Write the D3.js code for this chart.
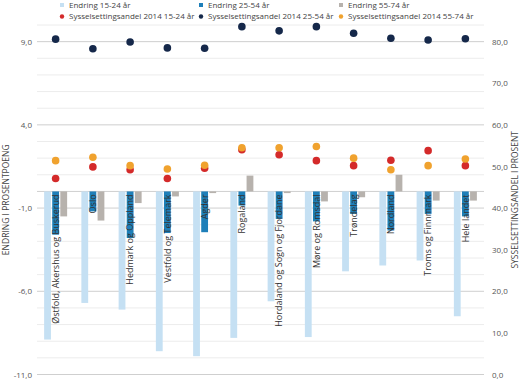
<!DOCTYPE html>
<html><head><meta charset="utf-8">
<script src="https://cdn.jsdelivr.net/npm/d3@7/dist/d3.min.js"></script>
<style>
body{margin:0;background:#fff;}
text{font-family:"Open Sans",sans-serif;}
</style></head>
<body><svg id="c" width="525" height="380"></svg>
<script>
const categories = ["Østfold, Akershus og Buskerud","Oslo","Hedmark og Oppland","Vestfold og Telemark","Agder","Rogaland","Hordaland og Sogn og Fjordane","Møre og Romsdal","Trøndelag","Nordland","Troms og Finnmark","Hele landet"];
const endring1524 = [-8.9,-6.7,-7.1,-9.6,-9.9,-8.8,-6.6,-8.75,-4.8,-4.45,-4.15,-7.5];
const endring2554 = [-2.6,-1.2,-2.8,-2.5,-2.45,-0.85,-1.65,-1.8,-1.35,-2.35,-1.35,-1.5];
const endring5574 = [-1.5,-1.75,-0.7,-0.3,-0.1,0.95,-0.1,-0.6,-0.35,1.0,-0.55,-0.55];
const andel1524 = [47.1,49.9,49.2,47.1,49.6,54.0,52.8,51.4,50.2,51.5,53.8,50.2];
const andel2554 = [80.6,78.3,79.9,78.5,78.4,83.6,82.6,83.6,82.0,80.8,80.4,80.7];
const andel5574 = [51.4,52.2,50.2,49.4,50.3,54.5,54.5,54.8,52.0,49.2,50.2,51.8];
const leftTicks = [9,4,-1,-6,-11];
const rightTicks = [80,70,60,50,40,30,20,10,0];
const barKeys = ["Endring 15-24 år","Endring 25-54 år","Endring 55-74 år"];
const dotKeys = ["Sysselsettingsandel 2014 15-24 år","Sysselsettingsandel 2014 25-54 år","Sysselsettingsandel 2014 55-74 år"];

const barColors = ["#c5e0f3","#1e7fb9","#b7b2ad"];
const dotColors = ["#d42a2a","#15284a","#f0a22e"];

const svg = d3.select("#c");
const x0 = 37, x1r = 484, yTop = 25, yBot = 374.5;
const y = d3.scaleLinear().domain([-11,10]).range([yBot,yTop]);
const yR = d3.scaleLinear().domain([0,84]).range([yBot,yTop]);
const x = d3.scaleBand().domain(categories).range([x0,x1r]);
const xs = d3.scaleBand().domain(barKeys).range([-11.5,11.5]).paddingInner(0.16);
const fmt = v => d3.format(".1f")(v).replace(".",",").replace("−","-");

// gridlines
const grid = d3.range(-11,11);
svg.append("g").selectAll("line").data(grid).join("line")
  .attr("x1",x0).attr("x2",x1r)
  .attr("y1",d=>y(d)).attr("y2",d=>y(d))
  .attr("stroke",d=> (leftTicks.includes(d)||d===0) ? "#cfcfcf" : "#ececec")
  .attr("stroke-width",1);

// left axis
const la = d3.axisLeft(y).tickValues(leftTicks).tickFormat(fmt).tickSize(0).tickPadding(5);
const gl = svg.append("g").attr("transform",`translate(${x0},0)`).call(la);
gl.select(".domain").remove();
gl.selectAll("text").attr("font-size","8px").attr("fill","#555").attr("font-family","Open Sans");

// right axis
const ra = d3.axisRight(yR).tickValues(rightTicks).tickFormat(fmt).tickSize(0).tickPadding(8);
const gr = svg.append("g").attr("transform",`translate(${x1r},0)`).call(ra);
gr.select(".domain").remove();
gr.selectAll("text").attr("font-size","8px").attr("fill","#555").attr("font-family","Open Sans");

// bars
const series = [endring1524,endring2554,endring5574];
series.forEach((vals,si)=>{
  svg.append("g").selectAll("rect").data(vals).join("rect")
    .attr("x",(d,i)=>x(categories[i])+x.bandwidth()/2+xs(barKeys[si]))
    .attr("width",xs.bandwidth())
    .attr("y",d=>y(Math.max(0,d)))
    .attr("height",d=>Math.abs(y(d)-y(0)))
    .attr("fill",barColors[si]);
});

// category labels
svg.append("g").selectAll("text").data(categories).join("text")
  .attr("transform",d=>`translate(${x(d)+x.bandwidth()/2+xs(barKeys[1])+xs.bandwidth()/2},${y(0)+3}) rotate(-90)`)
  .attr("text-anchor","end").attr("dy","0.35em")
  .attr("font-size","9px").attr("fill","#333")
  .text(d=>d);

// dots
const dseries = [andel2554,andel1524,andel5574];
const dcol = [dotColors[1],dotColors[0],dotColors[2]];
dseries.forEach((vals,si)=>{
  svg.append("g").selectAll("circle").data(vals).join("circle")
    .attr("cx",(d,i)=>x(categories[i])+x.bandwidth()/2)
    .attr("cy",d=>yR(d))
    .attr("r",3.8)
    .attr("fill",dcol[si]);
});

// axis titles
svg.append("text").attr("transform",`translate(9,${(yTop+yBot)/2}) rotate(-90)`)
  .attr("text-anchor","middle").attr("font-size","8.5px").attr("fill","#444")
  .text("ENDRING I PROSENTPOENG");
svg.append("text").attr("transform",`translate(518,${(yTop+yBot)/2}) rotate(-90)`)
  .attr("text-anchor","middle").attr("font-size","8.5px").attr("fill","#444")
  .text("SYSSELSETTINGSANDEL I PROSENT");

// legend
const legX = [62,201,341];
const lg = svg.append("g");
barKeys.forEach((k,i)=>{
  lg.append("rect").attr("x",legX[i]-2).attr("y",3).attr("width",4).attr("height",4).attr("fill",barColors[i]);
  lg.append("text").attr("x",legX[i]+7).attr("y",5.5).attr("dy","0.35em").attr("font-size","8px").attr("fill","#444").text(k);
});
dotKeys.forEach((k,i)=>{
  lg.append("circle").attr("cx",legX[i]).attr("cy",16.5).attr("r",2.2).attr("fill",dotColors[i]);
  lg.append("text").attr("x",legX[i]+7).attr("y",16.5).attr("dy","0.35em").attr("font-size","8px").attr("fill","#444").text(k);
});
</script></body></html>
